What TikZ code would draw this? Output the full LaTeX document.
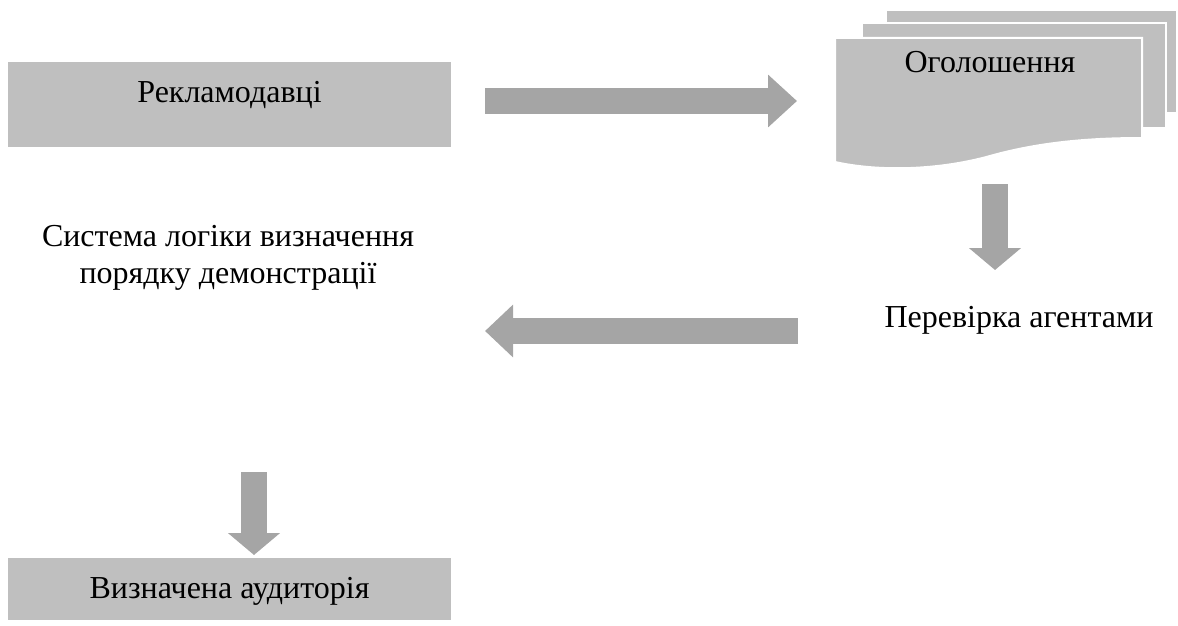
\documentclass[tikz,border=0pt]{standalone}
\usepackage{fontspec}
\setmainfont{Liberation Serif}
\usetikzlibrary{arrows.meta, positioning}
\definecolor{boxgray}{RGB}{191,191,191}
\definecolor{arrowgray}{RGB}{165,165,165}

\begin{document}
\begin{tikzpicture}[x=1pt, y=-1pt,
	txt/.style={font=\fontsize{32}{37}\selectfont, inner sep=0pt, align=center},
	box/.style={txt, fill=boxgray, minimum width=443pt, text height=40pt},
	sheet/.style={fill=boxgray, draw=white, line width=2pt},
	blockarrow/.style={draw=arrowgray, line width=26pt, -{Triangle[length=#1, width=51pt, color=arrowgray]}}]
	\useasboundingbox (0,0) rectangle (1178,626);
	% boxes
	\node[box, text depth=45pt, anchor=north] (adv) at (229.5,62) {Рекламодавці};
	\node[box, text depth=22pt, anchor=north] (aud) at (229.5,558) {Визначена аудиторія};
	% stacked sheets
	\draw[sheet] (886,10) rectangle (1177,113);
	\draw[sheet] (862,23) rectangle (1166,128);
	\draw[sheet] (835,38) -- (1142,38) -- (1142,138)
		.. controls (1090,138) and (1040,142) .. (990,156)
		.. controls (940,170) and (880,172) .. (835,162) -- cycle;
	\node[txt, anchor=base] (ads) at (990,73) {Оголошення};
	\node[txt, anchor=base] (check) at (1019,327) {Перевірка агентами};
	\node[txt, anchor=base] (logic) at (228,283) {Система логіки визначення\\порядку демонстрації};
	% arrows
	\coordinate (a1s) at (485,101);
	\coordinate (a1e) at (797,101);
	\coordinate (a2s) at (995,184);
	\coordinate (a2e) at (995,270);
	\coordinate (a3s) at (798,331);
	\coordinate (a3e) at (485,331);
	\coordinate (a4s) at (254,472);
	\coordinate (a4e) at (254,555);
	\draw[blockarrow=29pt] (a1s) -- (a1e);
	\draw[blockarrow=22pt] (a2s) -- (a2e);
	\draw[blockarrow=28pt] (a3s) -- (a3e);
	\draw[blockarrow=22pt] (a4s) -- (a4e);
\end{tikzpicture}
\end{document}
